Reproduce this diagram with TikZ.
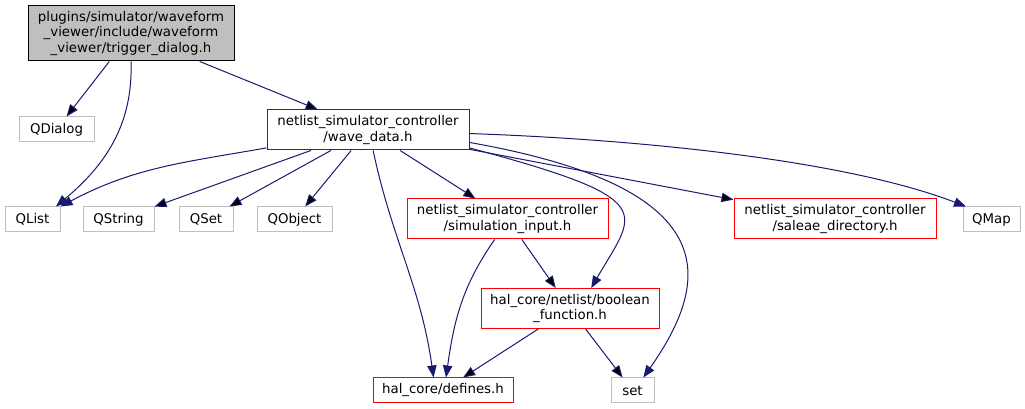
\documentclass[tikz,border=0pt]{standalone}
\usepackage{fontspec}
\setmainfont{DejaVu Sans}
\usetikzlibrary{arrows.meta}
\definecolor{edgeblue}{RGB}{25,25,112}
\definecolor{boxgray}{RGB}{191,191,191}

\begin{document}
\begin{tikzpicture}[x=0.75pt,y=0.75pt,>/.tip={Triangle[length=9pt,width=7pt]},
	font=\fontsize{10}{11.5}\selectfont,
	filebox/.style={draw,line width=0.75pt,align=center,inner sep=1pt,minimum height=18.75pt},
	rootbox/.style={filebox,fill=boxgray,draw=black,minimum height=41.25pt},
	hdrbox/.style={filebox,draw=black!80,minimum height=30pt},
	redbox/.style={filebox,draw=red,minimum height=30pt},
	sysbox/.style={filebox,draw=boxgray},
	dep/.style={->,draw=edgeblue,line width=0.75pt}]
	\useasboundingbox (0,0) rectangle (1025,409);
	\draw (131,375.5) node(root) [rootbox,minimum width=154.5pt] {plugins/simulator/waveform\\\_viewer/include/waveform\\\_viewer/trigger\_dialog.h};
	\draw (56.5,279.5) node(QDialog) [sysbox,minimum width=56.25pt] {QDialog};
	\draw (368,279) node(wave) [hdrbox,minimum width=151.5pt] {netlist\_simulator\_controller\\/wave\_data.h};
	\draw (32.5,189.5) node(QList) [sysbox,minimum width=41.25pt] {QList};
	\draw (118.5,189.5) node(QString) [sysbox,minimum width=53.25pt] {QString};
	\draw (206,189.5) node(QSet) [sysbox,minimum width=40.5pt] {QSet};
	\draw (294.5,189.5) node(QObject) [sysbox,minimum width=56.25pt] {QObject};
	\draw (507.5,190) node(siminput) [redbox,minimum width=150.75pt] {netlist\_simulator\_controller\\/simulation\_input.h};
	\draw (835,190) node(saleae) [redbox,minimum width=151.5pt] {netlist\_simulator\_controller\\/saleae\_directory.h};
	\draw (991.5,189.5) node(QMap) [sysbox,minimum width=42.75pt] {QMap};
	\draw (570,100.5) node(boolean) [redbox,minimum width=133.5pt] {hal\_core/netlist/boolean\\\_function.h};
	\draw (443,18.5) node(defines) [redbox,minimum width=105pt,minimum height=18.75pt] {hal\_core/defines.h};
	\draw (632.5,18.5) node(set) [sysbox,minimum width=32.25pt] {set};
	\draw[dep] (root) edge (QDialog);
	\draw[dep] (root.south) to [out=-88,in=40] (QList.29);
	\draw[dep] (root) edge (wave);
	\draw[dep] (wave.190) to [out=190,in=28] (QList.north east);
	\draw[dep] (wave) edge (QString);
	\draw[dep] (wave) edge (QSet);
	\draw[dep] (wave) edge (QObject);
	\draw[dep] (wave.-76) to [out=-78,in=98] (defines.126);
	\draw[dep] (wave) edge (siminput);
	\draw[dep] (wave.-10) to [out=-15,in=60,out distance=150pt,in distance=67pt] (boolean.44);
	\draw[dep] (wave.-7) to [out=-10,in=55,out distance=195pt,in distance=90pt] (set.50);
	\draw[dep] (wave) edge (saleae);
	\draw[dep] (wave.-2) to [out=-2,in=159,out distance=136pt,in distance=94pt] (QMap.153);
	\draw[dep] (siminput.238) to [out=-125,in=82] (defines.77);
	\draw[dep] (siminput) edge (boolean);
	\draw[dep] (boolean) edge (defines);
	\draw[dep] (boolean) edge (set);
\end{tikzpicture}
\end{document}
